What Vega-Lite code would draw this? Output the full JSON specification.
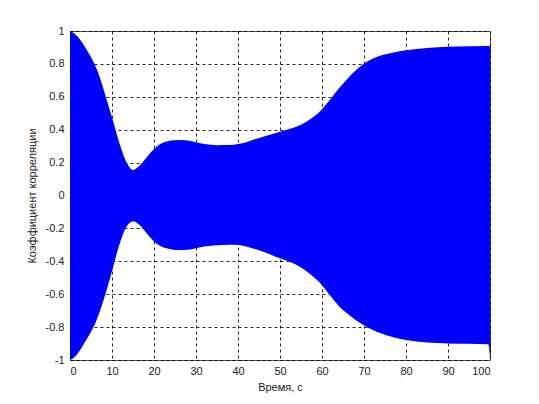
{
  "$schema": "https://vega.github.io/schema/vega-lite/v6.json",
  "width": 420,
  "height": 329,
  "autosize": {"type": "none"},
  "padding": {"left": 70, "top": 31, "right": 49, "bottom": 44},
  "background": "white",
  "config": {
    "font": "Liberation Sans",
    "view": {"stroke": "#555555", "strokeWidth": 1},
    "axis": {
      "labelFont": "Liberation Sans",
      "labelFontSize": 11,
      "labelColor": "#222222",
      "titleFont": "Liberation Sans",
      "titleFontSize": 11,
      "titleFontWeight": "normal",
      "titleColor": "#222222",
      "domain": false,
      "ticks": false,
      "tickSize": 0,
      "grid": true,
      "gridColor": "#000000",
      "gridDash": [3, 3],
      "gridWidth": 1,
      "gridOpacity": 0.85
    }
  },
  "data": {
    "values": [
      {"t": 0, "hi": 1.0, "lo": -1.0},
      {"t": 1, "hi": 0.985, "lo": -0.985},
      {"t": 2, "hi": 0.96, "lo": -0.955},
      {"t": 3, "hi": 0.925, "lo": -0.915},
      {"t": 4, "hi": 0.885, "lo": -0.872},
      {"t": 5, "hi": 0.84, "lo": -0.828},
      {"t": 6, "hi": 0.79, "lo": -0.778},
      {"t": 7, "hi": 0.725, "lo": -0.712},
      {"t": 8, "hi": 0.645, "lo": -0.635},
      {"t": 9, "hi": 0.56, "lo": -0.55},
      {"t": 10, "hi": 0.475, "lo": -0.46},
      {"t": 11, "hi": 0.385, "lo": -0.365},
      {"t": 12, "hi": 0.3, "lo": -0.28},
      {"t": 13, "hi": 0.228, "lo": -0.212},
      {"t": 14, "hi": 0.178, "lo": -0.172},
      {"t": 15, "hi": 0.155, "lo": -0.157},
      {"t": 16, "hi": 0.168, "lo": -0.168},
      {"t": 17, "hi": 0.193, "lo": -0.19},
      {"t": 18, "hi": 0.224, "lo": -0.222},
      {"t": 19, "hi": 0.255, "lo": -0.253},
      {"t": 20, "hi": 0.283, "lo": -0.28},
      {"t": 21, "hi": 0.304, "lo": -0.3},
      {"t": 22, "hi": 0.319, "lo": -0.313},
      {"t": 24, "hi": 0.334, "lo": -0.326},
      {"t": 26, "hi": 0.338, "lo": -0.332},
      {"t": 28, "hi": 0.334, "lo": -0.33},
      {"t": 30, "hi": 0.323, "lo": -0.32},
      {"t": 32, "hi": 0.313, "lo": -0.31},
      {"t": 35, "hi": 0.306, "lo": -0.302},
      {"t": 38, "hi": 0.307, "lo": -0.299},
      {"t": 40, "hi": 0.313, "lo": -0.301},
      {"t": 42, "hi": 0.324, "lo": -0.31},
      {"t": 44, "hi": 0.342, "lo": -0.325},
      {"t": 46, "hi": 0.357, "lo": -0.342},
      {"t": 48, "hi": 0.372, "lo": -0.362},
      {"t": 50, "hi": 0.388, "lo": -0.382},
      {"t": 52, "hi": 0.403, "lo": -0.4},
      {"t": 54, "hi": 0.42, "lo": -0.422},
      {"t": 56, "hi": 0.444, "lo": -0.455},
      {"t": 58, "hi": 0.478, "lo": -0.496},
      {"t": 60, "hi": 0.525, "lo": -0.545},
      {"t": 62, "hi": 0.585, "lo": -0.61},
      {"t": 64, "hi": 0.65, "lo": -0.672},
      {"t": 66, "hi": 0.708, "lo": -0.718},
      {"t": 68, "hi": 0.76, "lo": -0.757},
      {"t": 70, "hi": 0.803, "lo": -0.788},
      {"t": 72, "hi": 0.832, "lo": -0.816},
      {"t": 74, "hi": 0.851, "lo": -0.838},
      {"t": 77, "hi": 0.87, "lo": -0.862},
      {"t": 80, "hi": 0.883, "lo": -0.879},
      {"t": 85, "hi": 0.897, "lo": -0.893},
      {"t": 90, "hi": 0.905, "lo": -0.899},
      {"t": 99.6, "hi": 0.909, "lo": -0.904},
      {"t": 100, "hi": 0.909, "lo": -0.99}
    ]
  },
  "mark": {"type": "area", "color": "#0000ff", "interpolate": "monotone", "opacity": 1},
  "encoding": {
    "x": {
      "field": "t",
      "type": "quantitative",
      "scale": {"domain": [0, 100], "nice": false, "zero": false},
      "axis": {
        "values": [0, 10, 20, 30, 40, 50, 60, 70, 80, 90, 100],
        "title": "Время, с",
        "labelPadding": 5,
        "titlePadding": 5
      }
    },
    "y": {
      "field": "hi",
      "type": "quantitative",
      "scale": {"domain": [-1, 1], "nice": false, "zero": false},
      "axis": {
        "values": [-1, -0.8, -0.6, -0.4, -0.2, 0, 0.2, 0.4, 0.6, 0.8, 1],
        "labelExpr": "replace(format(datum.value, '~g'), '−', '-')",
        "title": "Коэффициент корреляции",
        "labelPadding": 6,
        "titlePadding": 8
      }
    },
    "y2": {"field": "lo"}
  }
}
